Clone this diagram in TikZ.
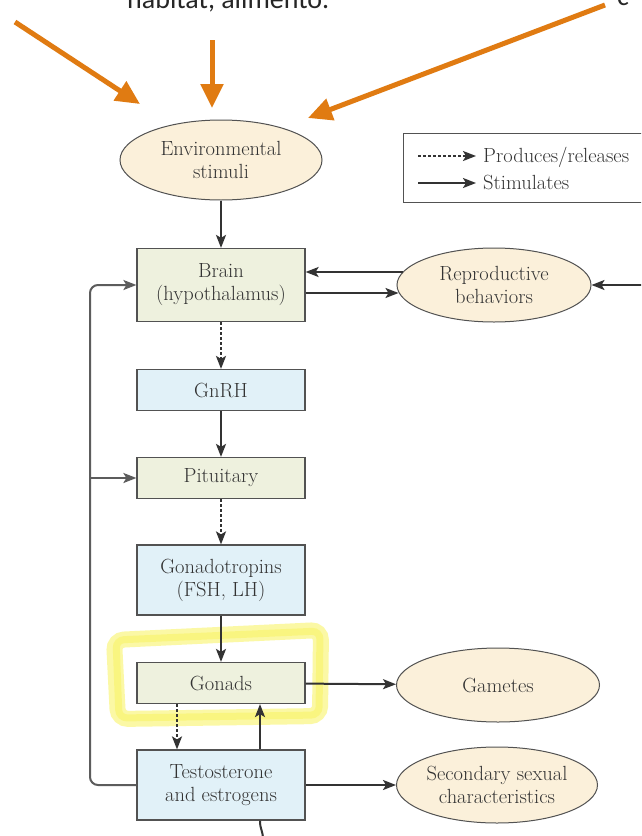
\documentclass[tikz,border=0pt]{standalone}
\usepackage{fontspec}
\newfontfamily\calib{Carlito}
\usetikzlibrary{shapes.geometric,arrows.meta}
\definecolor{orangeA}{HTML}{E07B12}
\definecolor{cream}{HTML}{FBF0DA}
\definecolor{greenbox}{HTML}{EEF1DE}
\definecolor{bluebox}{HTML}{E1F1F8}
\definecolor{ink}{HTML}{333333}
\definecolor{hl}{HTML}{F9F45C}
\begin{document}
\begin{tikzpicture}[x=1pt,y=-1pt,
  lbl/.style={font=\fontsize{20.5}{23}\selectfont, text=ink},
  box/.style={lbl, draw=ink!85, line width=1.2pt, minimum width=168pt, inner sep=0pt, align=center},
  gbox/.style={box, fill=greenbox},
  bbox/.style={box, fill=bluebox},
  oval/.style={lbl, ellipse, draw=ink!85, line width=1pt, fill=cream, inner sep=0pt, align=center},
  arr/.style={draw=ink, line width=2pt, -{Stealth[length=13pt,width=10pt,inset=3pt]}},
  darr/.style={arr, dash pattern=on 3pt off 2pt},
  oarr/.style={draw=orangeA, line width=5pt, -{Triangle[length=24pt,width=22pt]}}]
\clip (0,0) rectangle (641,836);
\fill[white] (0,0) rectangle (641,836);

% top text (cropped, as in the reference)
\node[font=\calib\fontsize{28}{30}\selectfont, anchor=base west, text=black!85, inner sep=0pt] (toptext) at (127,8) {habitat, alimento.};
\node[font=\calib\fontsize{28}{30}\selectfont, anchor=base west, text=black!85, inner sep=0pt] (topright) at (617,5) {c};

% orange arrows
\coordinate (o1s) at (15,22);  \coordinate (o1e) at (140,104);
\coordinate (o2s) at (212,40); \coordinate (o2e) at (212,108);
\coordinate (o3s) at (605,5);  \coordinate (o3e) at (308,118);
\draw[oarr] (o1s) -- (o1e);
\draw[oarr] (o2s) -- (o2e);
\draw[oarr] (o3s) -- (o3e);

% highlight
\draw[hl, line width=16pt, opacity=0.55, rounded corners=10pt]
  (114,640) -- (321,630) -- (320,716) -- (118,719) -- cycle;
\draw[hl, line width=7pt, opacity=0.5, rounded corners=8pt]
  (116,640) -- (320,631) -- (319,715) -- (119,718) -- cycle;

% nodes
\node[oval, minimum width=202pt, minimum height=80pt] (env) at (221,160) {Environmental\\stimuli};
\node[gbox, minimum height=73pt] (brain) at (221,285) {Brain\\(hypothalamus)};
\node[oval, minimum width=194pt, minimum height=74pt] (repro) at (494,285) {Reproductive\\behaviors};
\node[bbox, minimum height=41pt] (gnrh) at (221,390) {GnRH};
\node[gbox, minimum height=41pt] (pit) at (221,478) {Pituitary};
\node[bbox, minimum height=70pt] (gonadotr) at (221,580) {Gonadotropins\\(FSH, LH)};
\node[gbox, minimum height=41pt] (gonads) at (221,683) {Gonads};
\node[oval, minimum width=203pt, minimum height=74pt] (gam) at (498,685) {Gametes};
\node[bbox, minimum height=70pt] (testo) at (221,785) {Testosterone\\and estrogens};
\node[oval, minimum width=201pt, minimum height=76pt] (sec) at (497,785) {Secondary sexual\\characteristics};

% legend
\node[draw=ink!85, line width=1.2pt, fill=white, minimum width=257pt, minimum height=69pt, anchor=north west, inner sep=0pt] (leg) at (403,133) {};
\coordinate (l1a) at (418,156); \coordinate (l1b) at (476,156);
\coordinate (l2a) at (418,183); \coordinate (l2b) at (476,183);
\draw[darr] (l1a) -- (l1b);
\draw[arr] (l2a) -- (l2b);
\node[lbl, anchor=base west, inner sep=0pt] (lt1) at (483,162) {Produces/releases};
\node[lbl, anchor=base west, inner sep=0pt] (lt2) at (483,189) {Stimulates};

% connectors
\draw[arr] (env) -- (brain);
\draw[arr] ([xshift=6pt,yshift=13pt]repro.west) -- ([yshift=13pt]brain.east);
\draw[arr] ([yshift=-8pt]brain.east) -- ([xshift=2pt,yshift=-8pt]repro.west);
\coordinate (rin) at (645,285);
\draw[arr] (rin) -- (repro.east);
\draw[darr] (brain) -- (gnrh);
\draw[arr] (gnrh) -- (pit);
\draw[darr] (pit) -- (gonadotr);
\draw[arr] (gonadotr) -- (gonads);
\draw[arr] (gonads) -- (gam);
\draw[arr] (testo) -- (sec);
\draw[darr] ([xshift=-44pt]gonads.south) -- ([xshift=-44pt]testo.north);
\draw[arr] ([xshift=39pt]testo.north) -- ([xshift=39pt]gonads.south);
\coordinate (fbx) at (90,0);
\draw[arr, draw=ink!80, rounded corners=8pt] (testo.west) -- (testo.west -| fbx) -- (brain.west -| fbx) -- (brain.west);
\draw[arr, draw=ink!80] (pit.west -| fbx) -- (pit.west);
\coordinate (bend) at (263,840);
\draw[ink, line width=2pt] ([xshift=39pt]testo.south) .. controls (260,830) and (263,830) .. (bend);
\end{tikzpicture}
\end{document}
